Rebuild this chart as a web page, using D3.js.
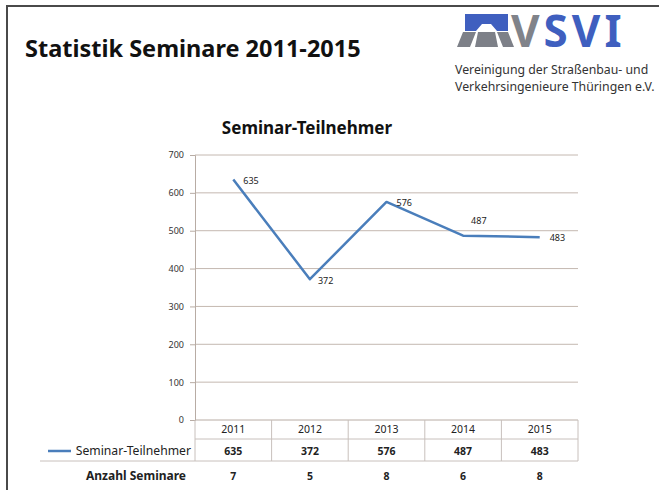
<!DOCTYPE html>
<meta charset="utf-8">
<script src="https://cdn.jsdelivr.net/npm/d3@7"></script>
<style>
body { margin: 0; background: #fff; }
text { font-family: "Noto Sans", "Open Sans", sans-serif; fill: #222; }
.grid line { stroke: #c4b8b0; stroke-width: 1; }
.tbl line { stroke: #c8c0bc; stroke-width: 1; }
</style>
<body>
<script>

// the data
var years = ["2011", "2012", "2013", "2014", "2015"];
var teilnehmer = [635, 372, 576, 487, 483];
var seminare = [7, 5, 8, 6, 8];
var yTicks = [0, 100, 200, 300, 400, 500, 600, 700];

var width = 659, height = 490;
var plotLeft = 195, plotRight = 578, plotTop = 155, plotBottom = 420;

var svg = d3.select("body").append("svg")
    .attr("width", width)
    .attr("height", height);

svg.append("rect").attr("width", width).attr("height", height).attr("fill", "#fff");

// frame of the slide
svg.append("path")
    .attr("d", "M7," + height + "V6H" + width)
    .attr("fill", "none")
    .attr("stroke", "#4a4a4a")
    .attr("stroke-width", 2);

// slide title
svg.append("text")
    .attr("x", 25).attr("y", 57)
    .style("font-size", "23.5px")
    .style("font-weight", 700)
    .style("fill", "#111")
    .text("Statistik Seminare 2011-2015");

// logo
var logo = svg.append("g");
logo.append("path")
    .attr("d", "M465,14H508V31H497L491,24H482L476,31H465Z")
    .attr("fill", "#3f5fbf");
logo.append("path")
    .attr("d", "M463,32H476L470,47H457Z M497,32H508L514,47H503Z M478,32H495L498,47H475Z")
    .attr("fill", "#7d8088");
logo.append("text")
    .attr("x", 511).attr("y", 47)
    .style("font-size", "44px")
    .style("font-weight", 700)
    .style("letter-spacing", "4px")
    .selectAll("tspan")
    .data([["V", "#80838a"], ["SVI", "#3f5fbf"]])
    .enter().append("tspan")
    .style("fill", function(d) { return d[1]; })
    .text(function(d) { return d[0]; });
logo.append("text")
    .attr("x", 455).attr("y", 74)
    .style("font-size", "12.3px")
    .style("fill", "#333")
    .text("Vereinigung der Straßenbau- und");
logo.append("text")
    .attr("x", 455).attr("y", 91)
    .style("font-size", "12.3px")
    .style("fill", "#333")
    .text("Verkehrsingenieure Thüringen e.V.");

// chart title
svg.append("text")
    .attr("x", 307).attr("y", 134)
    .attr("text-anchor", "middle")
    .style("font-size", "17px")
    .style("font-weight", 700)
    .style("fill", "#111")
    .text("Seminar-Teilnehmer");

// scales
var x = d3.scaleBand().domain(years).range([plotLeft, plotRight]);
var y = d3.scaleLinear().domain([0, 700]).range([plotBottom, plotTop]);

// gridlines
svg.append("g")
    .attr("class", "grid")
    .selectAll("line")
    .data(yTicks.filter(function(d) { return d > 0; }))
    .enter().append("line")
    .attr("x1", plotLeft).attr("x2", plotRight)
    .attr("y1", function(d) { return y(d); })
    .attr("y2", function(d) { return y(d); });

// y axis
var yAxis = svg.append("g")
    .attr("transform", "translate(" + plotLeft + ",0)")
    .call(d3.axisLeft(y).tickValues(yTicks).tickSize(5).tickPadding(6));
yAxis.select(".domain").attr("stroke", "#b8aca4");
yAxis.selectAll(".tick line").attr("stroke", "#b8aca4");
yAxis.selectAll(".tick text")
    .style("font-size", "9px")
    .style("fill", "#333");

// data table lines
var tbl = svg.append("g").attr("class", "tbl");
tbl.append("line").attr("x1", plotLeft).attr("x2", plotRight).attr("y1", plotBottom).attr("y2", plotBottom)
    .style("stroke", "#b8aca4");
tbl.append("line").attr("x1", plotLeft).attr("x2", plotRight).attr("y1", 439).attr("y2", 439);
tbl.append("line").attr("x1", 40).attr("x2", plotRight).attr("y1", 461).attr("y2", 461);
tbl.selectAll(".v")
    .data(years.map(function(d) { return x(d); }).concat([plotRight]))
    .enter().append("line")
    .attr("x1", function(d) { return d; }).attr("x2", function(d) { return d; })
    .attr("y1", plotBottom).attr("y2", 461);

// table contents
svg.append("g").selectAll("text")
    .data(years)
    .enter().append("text")
    .attr("x", function(d) { return x(d) + x.bandwidth() / 2; })
    .attr("y", 433)
    .attr("text-anchor", "middle")
    .style("font-size", "10.5px")
    .text(function(d) { return d; });

svg.append("g").selectAll("text")
    .data(teilnehmer)
    .enter().append("text")
    .attr("x", function(d, i) { return x(years[i]) + x.bandwidth() / 2; })
    .attr("y", 455)
    .attr("text-anchor", "middle")
    .style("font-size", "10.5px")
    .style("font-weight", 700)
    .text(function(d) { return d; });

svg.append("g").selectAll("text")
    .data(seminare)
    .enter().append("text")
    .attr("x", function(d, i) { return x(years[i]) + x.bandwidth() / 2; })
    .attr("y", 480)
    .attr("text-anchor", "middle")
    .style("font-size", "10.5px")
    .style("font-weight", 700)
    .text(function(d) { return d; });

// row headers
svg.append("line")
    .attr("x1", 48).attr("x2", 71).attr("y1", 451).attr("y2", 451)
    .attr("stroke", "#4a7ebb").attr("stroke-width", 2.5);
svg.append("text")
    .attr("x", 191).attr("y", 455)
    .attr("text-anchor", "end")
    .style("font-size", "12.2px")
    .text("Seminar-Teilnehmer");
svg.append("text")
    .attr("x", 186).attr("y", 480)
    .attr("text-anchor", "end")
    .style("font-size", "12px")
    .style("font-weight", 700)
    .text("Anzahl Seminare");

// the line
var line = d3.line()
    .x(function(d, i) { return x(years[i]) + x.bandwidth() / 2; })
    .y(function(d) { return y(d); });

svg.append("path")
    .datum(teilnehmer)
    .attr("d", line)
    .attr("fill", "none")
    .attr("stroke", "#4a7ebb")
    .attr("stroke-width", 2.5)
    .attr("stroke-linejoin", "round");

// data labels
var labelOffset = [[10, 4], [8, 5], [10, 4], [8, -12], [10, 4]];
svg.append("g").selectAll("text")
    .data(teilnehmer)
    .enter().append("text")
    .attr("x", function(d, i) { return x(years[i]) + x.bandwidth() / 2 + labelOffset[i][0]; })
    .attr("y", function(d, i) { return y(d) + labelOffset[i][1]; })
    .style("font-size", "9px")
    .text(function(d) { return d; });

</script>
</body>
</html>
